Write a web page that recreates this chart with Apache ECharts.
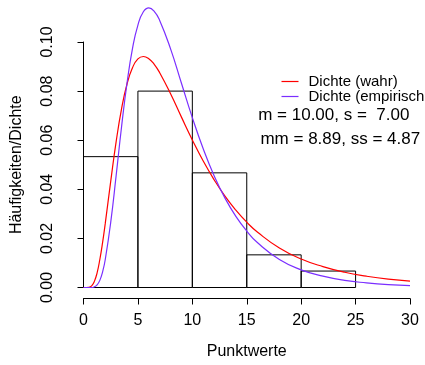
<!DOCTYPE html>
<html>
<head>
<meta charset="utf-8">
<script src="https://cdn.jsdelivr.net/npm/echarts@6/dist/echarts.min.js"></script>
<style>
html,body{margin:0;padding:0;background:#fff;}
#chart{width:425px;height:365px;}
</style>
</head>
<body>
<div id="chart"></div>
<script>
// Histogram bins (Punktwerte) and densities
var binStarts = [0, 5, 10, 15, 20];
var binEnds = [5, 10, 15, 20, 25];
var binDensity = [0.0533, 0.0800, 0.0467, 0.0133, 0.0067];

// Density curves
var curveX = [0, 0.5, 0.75, 1, 1.25, 1.5, 1.75, 2, 2.5, 3, 3.5, 4, 4.5, 5, 5.5, 6, 6.5, 7, 8, 9, 10, 11, 12, 13, 14, 15, 16, 18, 20, 22, 24, 26, 28, 30];
var trueDensity = [0, 0.0001, 0.00065, 0.0025, 0.0060, 0.0114, 0.0182, 0.0261, 0.0432, 0.0594, 0.0729, 0.0829, 0.0895, 0.0931, 0.0941, 0.0932, 0.0909, 0.0875, 0.0789, 0.0694, 0.0601, 0.0515, 0.0439, 0.0372, 0.0315, 0.0266, 0.0225, 0.0161, 0.0116, 0.0085, 0.0062, 0.0046, 0.0034, 0.0026];
var empDensity = [0, 0, 0, 0.0003, 0.0011, 0.0029, 0.0063, 0.0114, 0.0265, 0.0456, 0.0656, 0.0833, 0.0973, 0.1069, 0.1123, 0.1139, 0.1125, 0.1088, 0.0972, 0.0832, 0.0692, 0.0565, 0.0455, 0.0364, 0.0290, 0.0230, 0.0182, 0.0114, 0.0072, 0.0046, 0.0029, 0.0019, 0.0012, 0.0008];

var seriesNames = ['Dichte (wahr)', 'Dichte (empirisch'];
var statLines = ['m = 10.00, s =  7.00', 'mm = 8.89, ss = 4.87'];
var xTitle = 'Punktwerte';
var yTitle = 'Häufigkeiten/Dichte';

var FONT = 'Liberation Sans, Arial, Helvetica, sans-serif';

function zip(xs, ys) { return xs.map(function (x, i) { return [x, ys[i]]; }); }

var histData = binStarts.map(function (s, i) { return [s, binEnds[i], binDensity[i]]; });

var chart = echarts.init(document.getElementById('chart'), null, {renderer: 'canvas'});
chart.setOption({
  animation: false,
  backgroundColor: '#ffffff',
  grid: {left: 83.5, right: 15, top: 42, bottom: 77.5, containLabel: false},
  xAxis: {
    type: 'value', min: 0, max: 30, interval: 5, offset: 11,
    splitLine: {show: false},
    axisLine: {show: true, onZero: false, lineStyle: {color: '#000', width: 1}},
    axisTick: {show: true, length: 6, lineStyle: {color: '#000'}},
    axisLabel: {fontSize: 16, fontFamily: FONT, color: '#000', margin: 14},
    name: xTitle, nameLocation: 'middle', nameGap: 45,
    nameTextStyle: {fontSize: 16, fontFamily: FONT, color: '#000'}
  },
  yAxis: {
    type: 'value', min: 0, max: 0.1, interval: 0.02, offset: 12.5,
    splitLine: {show: false},
    axisLine: {show: true, lineStyle: {color: '#000', width: 1}},
    axisTick: {show: true, length: 6, lineStyle: {color: '#000'}},
    axisLabel: {fontSize: 16, fontFamily: FONT, color: '#000', margin: 15, rotate: 90,
      formatter: function (v) { return v.toFixed(2); }},
    name: yTitle, nameLocation: 'middle', nameGap: 46, nameRotate: 90,
    nameTextStyle: {fontSize: 16, fontFamily: FONT, color: '#000'}
  },
  legend: {
    orient: 'vertical', left: 281.5, top: 74, padding: 0, itemGap: 0,
    itemWidth: 17, itemHeight: 1.2, icon: 'rect',
    textStyle: {fontSize: 15, fontFamily: FONT, color: '#000', lineHeight: 10.3, padding: [0, 0, 0, 5]},
    data: [{name: seriesNames[0], itemStyle: {color: '#ff0000'}}, {name: seriesNames[1], itemStyle: {color: '#7a2eff'}}]
  },
  series: [
    {
      type: 'custom', name: 'hist', silent: true,
      renderItem: function (params, api) {
        var p0 = api.coord([api.value(0), api.value(2)]);
        var p1 = api.coord([api.value(1), 0]);
        return {type: 'rect', shape: {x: p0[0], y: p0[1], width: p1[0] - p0[0], height: p1[1] - p0[1]},
          style: {fill: 'none', stroke: '#000', lineWidth: 1}};
      },
      encode: {x: [0, 1], y: 2},
      data: histData, z: 1
    },
    {
      type: 'line', name: seriesNames[0], data: zip(curveX, trueDensity), smooth: true,
      showSymbol: false, clip: false, sampling: null, lineStyle: {color: '#ff0000', width: 1.2}, itemStyle: {color: '#ff0000'}, z: 3
    },
    {
      type: 'line', name: seriesNames[1], data: zip(curveX, empDensity), smooth: true,
      showSymbol: false, clip: false, sampling: null, lineStyle: {color: '#7a2eff', width: 1.2}, itemStyle: {color: '#7a2eff'}, z: 3
    }
  ],
  graphic: [
    {type: 'text', x: 333.8, y: 115, style: {text: statLines[0], font: '17px ' + FONT, fill: '#000', textAlign: 'center', textVerticalAlign: 'middle'}},
    {type: 'text', x: 340.3, y: 139, style: {text: statLines[1], font: '17px ' + FONT, fill: '#000', textAlign: 'center', textVerticalAlign: 'middle'}}
  ]
});
</script>
</body>
</html>
